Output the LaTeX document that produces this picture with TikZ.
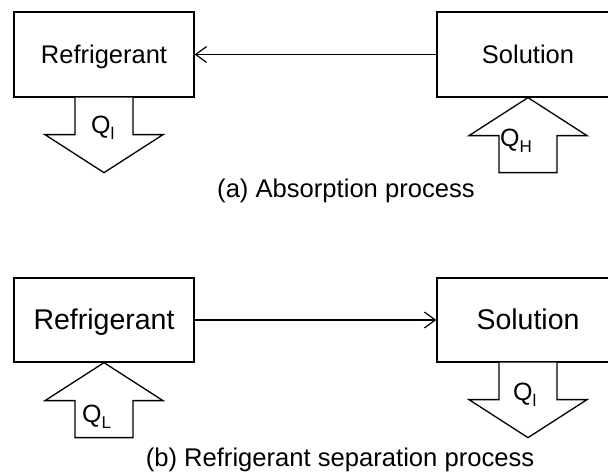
\documentclass[tikz,border=0pt]{standalone}
\usepackage{fontspec}
\setmainfont{Liberation Sans}
\usetikzlibrary{arrows.meta,calc}

% lowered subscript for the heat labels
\newcommand\heatsub[1]{\raisebox{-6pt}{\fontsize{17}{17}\selectfont #1}}

\begin{document}
\begin{tikzpicture}[x=1pt,y=1pt,
  box/.style={draw, line width=1.3pt, fill=white, inner sep=0pt, text depth=0pt},
  boxa/.style={box, minimum width=180pt, minimum height=85pt, text height=18pt,
    font=\fontsize{25.5}{26}\selectfont},
  boxb/.style={box, minimum width=180pt, minimum height=84pt, text height=20pt,
    font=\fontsize{28.5}{29}\selectfont},
  flow/.style={line width=1.2pt,
    -{Straight Barb[length=11pt,width=16pt,line width=1.2pt]}},
  heat/.style={draw, line width=1.3pt, fill=white, line join=miter},
  qlabel/.style={anchor=base west, inner sep=0pt, font=\fontsize{25}{25}\selectfont},
  caption/.style={anchor=base, inner sep=0pt, font=\fontsize{25.6}{26}\selectfont}]
\useasboundingbox (0,0) rectangle (608,473);
\clip (0,0) rectangle (608,473);

% (a) absorption process
\node[boxa] (refA) at (104,418.5) {Refrigerant};
\node[boxa, minimum width=182pt] (solA) at (528,418.5) {Solution};
\draw[flow] (solA.west) -- (refA.east);

% heat rejected by the refrigerant
\draw[heat] ($(refA.south)+(-29,0)$) -- ++(0,-37) -- ++(-30,0)
  -- ($(refA.south)+(0,-75)$) -- ($(refA.south)+(59,-37)$) -- ++(-30,0) -- ++(0,37);
% heat supplied to the solution
\draw[heat] (solA.south) -- ++(-59,-38) -- ++(30,0) -- ++(0,-37) -- ++(58,0)
  -- ++(0,37) -- ++(30,0) -- cycle;

\node[qlabel] (qlA) at (91,339) {Q\heatsub{l}};
\node[qlabel] (qhA) at (500,326) {Q\heatsub{H}};

\node[caption] (capA) at (346,275) {(a) Absorption process};

% (b) refrigerant separation process
\node[boxb] (refB) at (104,153) {Refrigerant};
\node[boxb, minimum width=182pt] (solB) at (528,153) {Solution};
\draw[flow] (refB.east) -- (solB.west);

% heat supplied to the refrigerant
\draw[heat] (refB.south) -- ++(-59,-38) -- ++(30,0) -- ++(0,-37) -- ++(58,0)
  -- ++(0,37) -- ++(30,0) -- cycle;
% heat rejected by the solution
\draw[heat] ($(solB.south)+(-29,0)$) -- ++(0,-37) -- ++(-30,0)
  -- ($(solB.south)+(0,-75)$) -- ($(solB.south)+(59,-37)$) -- ++(-30,0) -- ++(0,37);

\node[qlabel] (qlB) at (82,50) {Q\heatsub{L}};
\node[qlabel] (qlS) at (513,72) {Q\heatsub{l}};

\node[caption] (capB) at (340,6) {(b) Refrigerant separation process};
\end{tikzpicture}
\end{document}
